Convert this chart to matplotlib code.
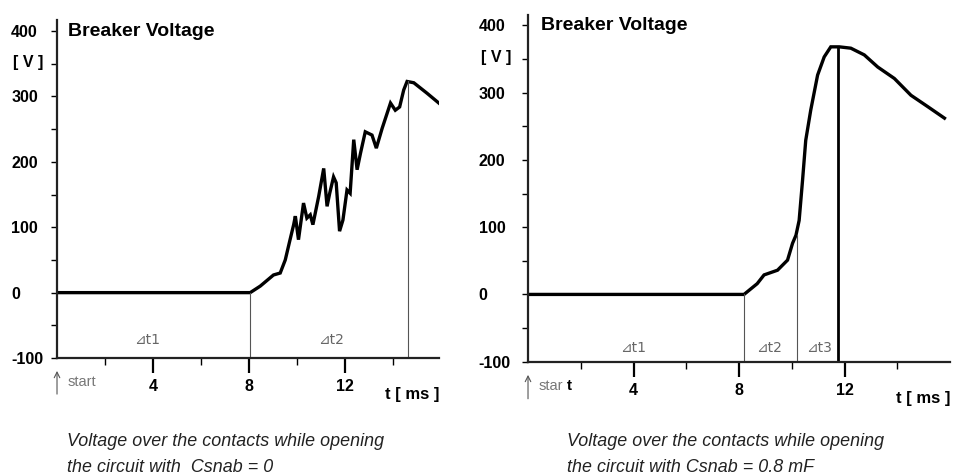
import matplotlib.pyplot as plt

plt.rcParams['font.family'] = ['Liberation Sans', 'DejaVu Sans']

# breaker voltage, no snubber capacitor
t_nosnub = [0, 8.04, 8.46, 9.01, 9.29, 9.5, 9.68, 9.85, 9.92, 10.05, 10.26, 10.4,
            10.54, 10.65, 10.89, 11.1, 11.24, 11.35, 11.51, 11.62, 11.76, 11.9,
            12.07, 12.2, 12.35, 12.49, 12.63, 12.83, 13.11, 13.29, 13.53, 13.88,
            14.08, 14.26, 14.43, 14.57, 14.85, 15.4, 15.89]
v_nosnub = [0, 0, 10, 27, 30, 50, 78, 104, 117, 81, 137, 114,
            119, 104, 147, 190, 132, 152, 177, 168, 94, 111,
            157, 152, 234, 188, 213, 246, 241, 221, 251, 290,
            279, 284, 310, 323, 321, 305, 290]

# breaker voltage, Csnab = 0.8 mF
t_snub = [0, 8.19, 8.69, 8.95, 9.46, 9.84, 10.03, 10.16, 10.28, 10.41, 10.53,
          10.72, 10.98, 11.23, 11.48, 11.8, 12.24, 12.75, 13.26, 13.89, 14.52,
          15.16, 15.79]
v_snub = [0, 0, 16, 29, 36, 51, 76, 88, 110, 170, 229,
          274, 326, 353, 368, 368, 366, 356, 338, 321, 296,
          279, 262]

# interval markers: (time, voltage where the marker stops, line width)
marks_nosnub = [(8.05, 0, 0.8), (14.6, 323, 0.8)]
marks_snub = [(8.19, 0, 0.8), (10.18, 88, 0.8), (11.77, 368, 2.0)]

dt_nosnub = [(3.2, '⊿t1'), (10.85, '⊿t2')]
dt_snub = [(3.5, '⊿t1'), (8.65, '⊿t2'), (10.55, '⊿t3')]

caption_lines = [
    ['Voltage over the contacts while opening', 'the circuit with  Csnab = 0'],
    ['Voltage over the contacts while opening', 'the circuit with Csnab = 0.8 mF'],
]

fig = plt.figure(figsize=(9.63, 4.74), dpi=100)
ax1 = fig.add_axes([0.0592, 0.2447, 0.3967, 0.7131])
ax2 = fig.add_axes([0.5483, 0.2369, 0.4382, 0.7310])


def style(ax, t, v, marks, dts, dt_y, xmax, ytop, ypad, bold_t):
    ax.plot(t, v, color='black', lw=2.4, solid_joinstyle='miter')
    for tm, vm, lw in marks:
        ax.plot([tm, tm], [-100, vm], color='#555555' if lw < 1 else 'black', lw=lw)
    for tx, s in dts:
        ax.text(tx, dt_y, s, fontsize=10, color='#666666', ha='left', va='center',
                family=['DejaVu Sans'])
    ax.set_xlim(0, xmax)
    ax.set_ylim(-100, ytop)
    for side in ('top', 'right'):
        ax.spines[side].set_visible(False)
    for side in ('left', 'bottom'):
        ax.spines[side].set_linewidth(1.6)
        ax.spines[side].set_color('#222222')
    ax.set_yticks(range(-100, 401, 50))
    ax.set_yticklabels(['-100', '', '0', '', '100', '', '200', '', '300', '', '400'])
    # y labels are left-aligned in a column at the figure edge
    ax.tick_params(axis='y', direction='out', length=4, width=1.0, pad=ypad,
                   labelsize=11.5)
    ax.set_xticks([4, 8, 12])
    ax.set_xticks([2, 6, 10, 14], minor=True)
    ax.tick_params(axis='x', which='major', direction='out', length=11, width=1.6,
                   pad=4, labelsize=11.5)
    ax.tick_params(axis='x', which='minor', direction='out', length=5, width=1.0)
    for lab in ax.get_xticklabels() + ax.get_yticklabels():
        lab.set_fontweight('bold')
    for lab in ax.get_yticklabels():
        lab.set_horizontalalignment('left')
    ax.text(xmax * 0.03, 400, 'Breaker Voltage', fontsize=14, fontweight='bold',
            ha='left', va='center')
    ax.text(-0.075, 352, '[ V ]', fontsize=11.5, fontweight='bold', ha='center',
            va='center', transform=ax.get_yaxis_transform())
    ax.text(1.0, -0.085, 't [ ms ]', fontsize=12, fontweight='bold', ha='right',
            va='top', transform=ax.transAxes)
    ax.annotate('', xy=(0, -0.03), xytext=(0, -0.115), xycoords='axes fraction',
                arrowprops=dict(arrowstyle='->', color='#555555', lw=0.8))
    if bold_t:
        ax.text(0.026, -0.07, 'star', fontsize=10.5, color='#777777', ha='left',
                va='center', transform=ax.transAxes)
        ax.text(0.093, -0.07, 't', fontsize=11, fontweight='bold', color='black',
                ha='left', va='center', transform=ax.transAxes)
    else:
        ax.text(0.028, -0.07, 'start', fontsize=10.5, color='#777777', ha='left',
                va='center', transform=ax.transAxes)


style(ax1, t_nosnub, v_nosnub, marks_nosnub, dt_nosnub, -72, 15.9, 417, 29, False)
style(ax2, t_snub, v_snub, marks_snub, dt_snub, -79, 16.0, 415, 31.5, True)

# captions under each panel
for x0, lines in zip([67 / 963, 567 / 963], caption_lines):
    for y0, line in zip([1 - 442 / 474, 1 - 467 / 474], lines):
        fig.text(x0, y0, line, fontsize=12.9, style='italic', color='#222222',
                 ha='left', va='center')

fig.savefig('out.png', dpi=100)
